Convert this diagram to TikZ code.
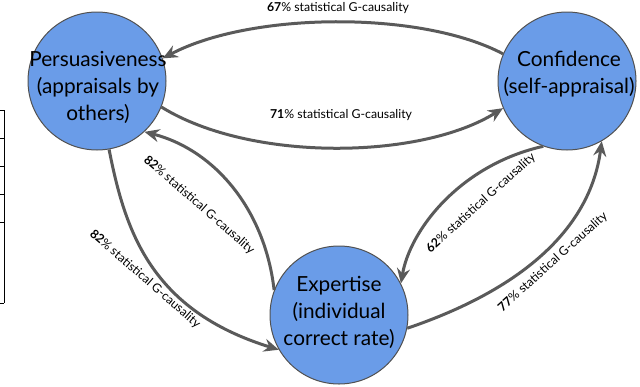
\documentclass[tikz,border=0pt]{standalone}
\usepackage{fontspec}
\setmainfont{Lato}
\usetikzlibrary{arrows.meta}
\definecolor{nodeblue}{RGB}{106,156,232}
\definecolor{edgegray}{RGB}{90,90,90}
\begin{document}
\begin{tikzpicture}[x=1pt,y=-1pt,
  bubble/.style={circle,draw=edgegray!90!black,line width=1pt,fill=nodeblue,minimum size=138pt,inner sep=0pt},
  btext/.style={align=center,font=\fontsize{20.8}{27}\selectfont,text=black,inner sep=0pt},
  link/.style={draw=edgegray,line width=3pt,-{Stealth[length=15pt,width=13pt,inset=5pt]}},
  elabel/.style={font=\fontsize{12.3}{14}\selectfont,inner sep=0pt,text=black}]
\useasboundingbox (0,0) rectangle (640,386);
% table fragment at left edge
\draw[line width=1pt] (4,110) -- (4,303);
\foreach \yy in {110,138,166,194,222,303} \draw[line width=1pt] (0,\yy) -- (4,\yy);
% bubbles
\node[bubble] (pers) at (97,81) {};
\node[bubble] (conf) at (567,81) {};
\node[bubble] (expt) at (339,315) {};
\node[btext] (perst) at (98,87) {Persuasiveness\\(appraisals by\\others)};
\node[btext] (conft) at (569,74) {Confidence\\(self-appraisal)};
\node[btext] (exptt) at (339,312) {Expertise\\(individual\\correct rate)};
% connectors
\draw[link] (conf.157) .. controls (420,10) and (250,12) .. (pers.19);
\draw[link] (pers.-22) .. controls (250,162) and (420,160) .. (conf.203);
\draw[link] (pers.-80) .. controls (125,230) and (150,310) .. (expt.210);
\draw[link] (expt.159) .. controls (265,210) and (215,150) .. (pers.-47);
\draw[link] (conf.-110) .. controls (460,165) and (410,230) .. (expt.27);
\draw[link] (expt.-11) .. controls (520,290) and (590,230) .. (conf.-60);
% labels
\node[elabel] (l67) at (338,8) {\textbf{67}\% statistical G-causality};
\node[elabel] (l71) at (341,115) {\textbf{71}\% statistical G-causality};
\node[elabel,rotate=-41] (l82a) at (199,205) {\textbf{82}\% statistical G-causality};
\node[elabel,rotate=-41] (l82b) at (145,279) {\textbf{82}\% statistical G-causality};
\node[elabel,rotate=42] (l62) at (481,203) {\textbf{62}\% statistical G-causality};
\node[elabel,rotate=42] (l77) at (553,262) {\textbf{77}\% statistical G-causality};
\end{tikzpicture}
\end{document}
